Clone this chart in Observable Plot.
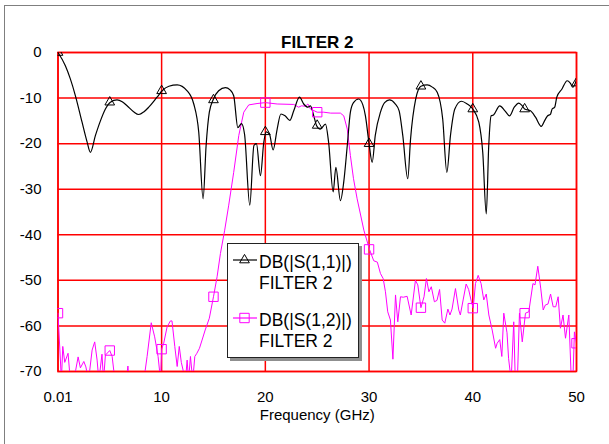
<!DOCTYPE html>
<html>
<head>
<meta charset="utf-8">
<script src="https://cdn.jsdelivr.net/npm/d3@7"></script>
<script src="https://cdn.jsdelivr.net/npm/@observablehq/plot@0.6"></script>
<style>
  html, body { margin: 0; padding: 0; background: #fff; }
  #wrap { position: relative; width: 609px; height: 444px; overflow: hidden; font-family: "Liberation Sans", Arial, sans-serif; }
  #outer { position: absolute; left: 4px; top: 5px; width: 700px; height: 600px; border: 1px solid #7f7f7f; box-sizing: border-box; }
  #chart { position: absolute; left: 0; top: 0; }
  #legend { position: absolute; left: 227px; top: 243px; width: 132px; height: 115px; border: 1px solid #222; background: #fff; box-shadow: 3px 3px 0 #8f8f8f; box-sizing: border-box; }
</style>
</head>
<body>
<div id="wrap">
  <div id="outer"></div>
  <div id="chart"></div>
  <div id="legend"></div>
</div>
<script>
// ---------- data ----------
const title = "FILTER 2";
const xLabel = "Frequency (GHz)";
const xTicks = [0.01, 10, 20, 30, 40, 50];
const yTicks = [0, -10, -20, -30, -40, -50, -60, -70];
const seriesNames = ["DB(|S(1,1)|)", "DB(|S(1,2)|)"];
const seriesSub = ["FILTER 2", "FILTER 2"];

// S(1,1) in dB
const s11Freq = [0.01, 0.72, 1.2, 1.69, 2.33, 2.8, 3.13, 3.62, 4.1, 4.58, 5.06, 5.7, 6.2, 6.67, 7.3, 7.8, 8.3, 8.76, 9.56, 10.05,
  10.7, 11.5, 12.46, 13.1, 13.58, 14.0, 14.29, 14.6, 15.0, 15.5, 16.15, 16.6, 16.95, 17.35, 17.7, 18.0, 18.5, 18.9, 19.14, 19.53,
  19.85, 20.08, 20.4, 20.75, 21.14, 21.5, 21.9, 22.36, 22.74, 23.29, 23.7, 24.1, 24.35, 24.67, 24.93, 25.3, 25.8, 26.1, 26.54, 26.8,
  27.24, 27.56, 27.9, 28.2, 28.5, 29.0, 29.4, 29.65, 30.0, 30.3, 30.6, 31.1, 31.5, 31.97, 32.5, 32.9, 33.25, 33.73, 34.0, 34.5,
  35.0, 35.6, 36.1, 36.57, 37.1, 37.5, 37.85, 38.27, 38.9, 39.46, 40.0, 40.58, 40.96, 41.3, 41.54, 41.77, 42.0, 42.6, 43.1, 43.54,
  44.0, 44.44, 44.77, 45.0, 45.56, 46.05, 46.6, 46.94, 47.17, 47.5, 47.65, 47.9, 48.1, 48.6, 49.1, 49.4, 49.65, 50.0];
const s11Db = [0, -2.9, -5.8, -9.5, -15.3, -19.5, -21.9, -18.2, -15.0, -12.4, -10.9, -10.4, -10.8, -11.7, -13.0, -13.6, -13.0, -12.0, -9.8, -8.4,
  -7.4, -7.1, -8.4, -11.3, -17.5, -32.1, -20.4, -13.1, -10.2, -8.4, -7.7, -8.2, -9.5, -16.5, -15.6, -18.0, -33.5, -20.4, -20.0, -27.0,
  -19.7, -17.4, -17.9, -21.4, -16.8, -13.5, -13.9, -14.9, -12.8, -9.8, -11.3, -12.0, -11.7, -13.9, -16.0, -16.8, -15.7, -19.7, -30.6, -25.2,
  -32.5, -28.4, -20.4, -13.1, -11.0, -10.2, -11.5, -13.9, -20.0, -24.1, -18.2, -13.1, -11.0, -10.4, -11.2, -12.8, -18.2, -27.7, -19.0, -10.2,
  -7.4, -7.1, -7.6, -8.7, -14.6, -26.3, -18.2, -12.4, -10.7, -11.3, -12.4, -15.3, -21.9, -35.4, -20.4, -13.9, -13.7, -11.7, -12.8, -13.9,
  -12.0, -11.1, -11.7, -12.4, -12.8, -14.2, -16.2, -14.9, -14.0, -13.5, -12.4, -12.0, -9.8, -8.0, -6.2, -6.7, -7.6, -6.0];

// S(1,2) in dB (values below -70 are off the chart)
const s12Freq = [0.01, 0.34, 0.47, 0.66, 0.98, 1.2, 1.53, 1.95, 2.17, 2.5, 2.7, 2.95, 3.3, 3.55, 3.78, 3.95, 4.25, 4.4, 4.58, 5.0,
  5.23, 5.5, 6.6, 6.75, 6.85, 8.28, 8.6, 9.0, 9.33, 9.66, 9.9, 10.0, 10.2, 10.53, 10.85, 11.0, 11.27, 11.5, 11.7, 11.9,
  12.3, 12.46, 12.6, 12.78, 13.0, 13.2, 13.4, 13.65, 13.9, 14.2, 14.6, 15.0, 15.35, 15.67, 16.08, 16.47, 16.95, 17.44, 17.92, 18.4,
  19.2, 20.0, 21.14, 22.74, 23.2, 23.5, 23.87, 24.1, 24.35, 25.0, 25.63, 26.3, 27.24, 27.56, 27.9, 28.2, 28.5, 28.85, 29.5, 30.04,
  30.45, 30.8, 31.1, 31.36, 31.58, 31.8, 32.06, 32.3, 32.55, 32.77, 33.03, 33.3, 33.67, 34.06, 34.47, 34.7, 35.0, 35.3, 35.53, 35.77,
  36.0, 36.3, 36.55, 36.8, 37.05, 37.3, 37.6, 37.8, 38.0, 38.33, 38.65, 38.8, 39.07, 39.36, 39.6, 39.87, 40.04, 40.26, 40.52, 40.8,
  41.06, 41.3, 41.55, 41.87, 42.2, 42.35, 42.6, 42.8, 42.99, 43.3, 43.45, 43.7, 43.95, 44.1, 44.3, 44.5, 44.77, 45.08, 45.4, 45.8,
  46.0, 46.27, 46.55, 46.79, 47.0, 47.25, 47.5, 47.75, 48.0, 48.23, 48.45, 48.7, 48.94, 49.26, 49.5, 49.65, 49.8, 50.0];
const s12Db = [-57.2, -72, -64.5, -68, -66, -72, -72, -66.8, -69.2, -67.8, -69, -72, -65.3, -63.5, -67.5, -72, -66.2, -72, -66.4, -65.4,
  -66.7, -72, -72, -68.8, -72, -72, -66.7, -59.3, -62.4, -66.7, -72, -65.1, -63.8, -60.2, -58.9, -58.9, -64.5, -68.9, -64.5, -68,
  -72, -67.5, -72, -66.7, -72, -66.7, -66, -64.9, -63.1, -60.9, -58.3, -53.6, -49.2, -44.1, -39, -33.5, -26.3, -18.2, -13.1, -11.5,
  -11.2, -11.0, -11.3, -11.4, -12.0, -11.7, -11.8, -11.3, -12.4, -13.1, -13.1, -13.3, -13.3, -13.9, -16.8, -22.6, -27.7, -32.1, -39, -43.2,
  -45.7, -46, -48.5, -49.6, -52.5, -56.9, -58.7, -67.3, -53.2, -59.1, -53.6, -53.7, -53.5, -57.6, -50, -51, -56, -53.6, -49.6, -52.5,
  -51.4, -54.7, -54.4, -52, -58.7, -59.4, -56.3, -57.6, -56.3, -51.8, -56.5, -57.6, -54.3, -50.8, -52, -54.7, -56.1, -50.7, -48.9, -50.7,
  -54.3, -53, -57.6, -60.9, -64.9, -63.8, -63, -66.7, -57.2, -61.5, -67.1, -72, -59.1, -72, -72, -57.2, -63.5, -57.2, -56.9, -50.7,
  -51, -46.9, -51.7, -56.5, -55.4, -55.2, -53, -55.8, -55.8, -53.6, -60.5, -57.6, -62.7, -57.6, -72, -72, -61.3, -63.8];

// marker positions (every 5 GHz)
const markFreq = [0.01, 5, 10, 15, 20, 25, 30, 35, 40, 45, 50];
const s11MarkDb = [0, -10.9, -8.4, -10.4, -17.4, -16.0, -20.0, -7.4, -12.4, -12.4, -6.7];
const s12MarkDb = [-57.2, -65.4, -65.1, -53.6, -11.0, -13.1, -43.2, -56.0, -56.1, -57.2, -63.8];

// ---------- build ----------
const s11 = s11Freq.map((f, i) => ({f, db: s11Db[i]}));
const s12 = s12Freq.map((f, i) => ({f, db: s12Db[i]}));
const m11 = markFreq.map((f, i) => ({f, db: s11MarkDb[i]}));
const m12 = markFreq.map((f, i) => ({f, db: s12MarkDb[i]}));

const RED = "#ff0000", MAG = "#ff00ff";

const chart = Plot.plot({
  width: 609,
  height: 444,
  marginLeft: 57.5,
  marginRight: 33,
  marginTop: 52,
  marginBottom: 73,
  style: {fontFamily: "'Liberation Sans', Arial, sans-serif", fontSize: "15px", background: "transparent", color: "#000", overflow: "visible"},
  x: {domain: [0.01, 50]},
  y: {domain: [-70, 0]},
  marks: [
    Plot.gridX(xTicks, {stroke: RED, strokeOpacity: 1, strokeWidth: 1.5}),
    Plot.gridY(yTicks, {stroke: RED, strokeOpacity: 1, strokeWidth: 1.5}),
    Plot.frame({stroke: RED, strokeWidth: 1.5}),
    Plot.axisX(xTicks, {tickSize: 0, tickPadding: 20, tickFormat: d => String(d), label: null, fontSize: 15}),
    Plot.axisY(yTicks, {tickSize: 0, tickPadding: 16.5, tickFormat: d => String(d), label: null, fontSize: 15}),
    Plot.line(s12, {x: "f", y: "db", stroke: MAG, strokeWidth: 1, clip: true}),
    Plot.line(s11, {x: "f", y: "db", stroke: "#000", strokeWidth: 1.2, curve: "monotone-x", clip: true}),
    Plot.dot(m11, {x: "f", y: "db", symbol: "triangle", r: 3.6, stroke: "#000", fill: "none", strokeWidth: 1, clip: true}),
    Plot.dot(m12, {x: "f", y: "db", symbol: "square", r: 5.3, stroke: MAG, fill: "none", strokeWidth: 1, clip: true}),
    Plot.text([title], {frameAnchor: "top", dy: -17, fontWeight: "bold", fontSize: 17}),
    Plot.text([xLabel], {frameAnchor: "bottom", dy: 48, fontSize: 15})
  ]
});
document.getElementById("chart").appendChild(chart);

// ---------- legend ----------
const lg = d3.select("#legend").append("svg")
  .attr("width", 130).attr("height", 113)
  .style("position", "absolute").style("left", "0px").style("top", "0px")
  .style("font-family", "'Liberation Sans', Arial, sans-serif");
const rows = [
  {name: seriesNames[0], sub: seriesSub[0], color: "#000", sym: d3.symbolTriangle, size: Math.PI * 3.6 * 3.6, y: 16},
  {name: seriesNames[1], sub: seriesSub[1], color: MAG, sym: d3.symbolSquare, size: Math.PI * 5.3 * 5.3, y: 74}
];
rows.forEach(r => {
  lg.append("line").attr("x1", 5).attr("x2", 29).attr("y1", r.y).attr("y2", r.y).attr("stroke", r.color).attr("stroke-width", 1.2);
  lg.append("path").attr("d", d3.symbol(r.sym, r.size)()).attr("transform", `translate(16.5,${r.y})`)
    .attr("fill", "none").attr("stroke", r.color);
  lg.append("text").attr("x", 31).attr("y", r.y + 8).attr("font-size", 17.5).attr("fill", "#000").text(r.name);
  lg.append("text").attr("x", 31).attr("y", r.y + 29).attr("font-size", 17.5).attr("fill", "#000").text(r.sub);
});
</script>
</body>
</html>
